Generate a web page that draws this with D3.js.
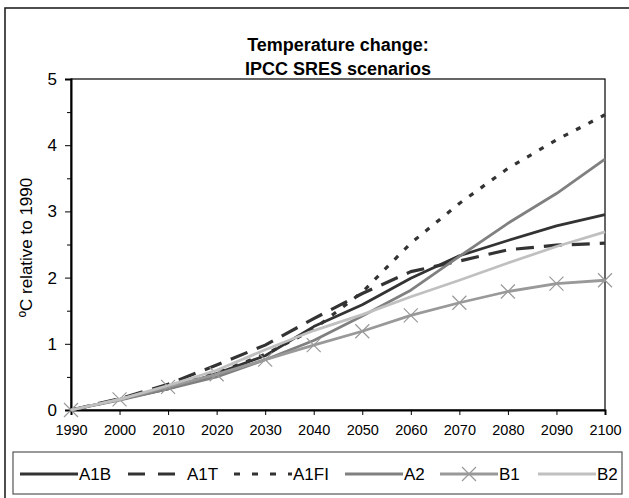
<!DOCTYPE html>
<html><head><meta charset="utf-8">
<script src="https://cdn.jsdelivr.net/npm/d3@7"></script>
<style>body{margin:0;background:#fff} text{font-family:"Liberation Sans",Arial,sans-serif;fill:#000}</style>
</head><body><svg id="c" width="629" height="498"></svg>
<script>
// ---- data ----
const years = [1990,2000,2010,2020,2030,2040,2050,2060,2070,2080,2090,2100];
const A1B  = [0,0.16,0.32,0.55,0.82,1.26,1.59,1.99,2.33,2.56,2.78,2.95];
const A1T  = [0,0.17,0.39,0.68,0.98,1.38,1.76,2.09,2.25,2.42,2.49,2.52];
const A1FI = [0,0.16,0.34,0.56,0.84,1.22,1.78,2.52,3.12,3.65,4.08,4.46];
const A2   = [0,0.15,0.32,0.50,0.76,1.05,1.42,1.81,2.32,2.82,3.27,3.79];
const B1   = [0,0.16,0.35,0.54,0.76,0.98,1.19,1.43,1.62,1.79,1.91,1.96];
const B2   = [0,0.16,0.37,0.60,0.91,1.20,1.44,1.71,1.96,2.22,2.47,2.69];
const seriesNames = ["A1B","A1T","A1FI","A2","B1","B2"];
const yTicks = [0,1,2,3,4,5];
const yMinorTicks = [0.5,1.5,2.5,3.5,4.5];
const titleLines = ["Temperature change:","IPCC SRES scenarios"];
const yLabel = "ºC relative to 1990";

// ---- styles ----
const styles = {
  A1B:  {color:"#333333", width:2.8, dash:null, ldash:null, marker:false},
  A1T:  {color:"#333333", width:3.2, dash:"18,10", ldash:"17,13", marker:false},
  A1FI: {color:"#333333", width:3.2, dash:"5,9", ldash:"6,12", marker:false},
  A2:   {color:"#808080", width:2.8, dash:null, ldash:null, marker:false},
  B1:   {color:"#999999", width:2.8, dash:null, ldash:null, marker:true},
  B2:   {color:"#c0c0c0", width:2.8, dash:null, ldash:null, marker:false}
};
const seriesData = {A1B, A1T, A1FI, A2, B1, B2};

const svg = d3.select("#c");
const L = 71, R = 605, T = 79, B = 410;

// outer frame
svg.append("rect").attr("x",5).attr("y",8).attr("width",640).attr("height",500)
  .attr("fill","none").attr("stroke","#222").attr("stroke-width",1.6);

const x = d3.scaleLinear().domain([1990,2100]).range([L,R]);
const y = d3.scaleLinear().domain([0,5]).range([B,T]);

// plot frame
svg.append("rect").attr("x",L).attr("y",T).attr("width",R-L).attr("height",B-T)
  .attr("fill","none").attr("stroke","#000").attr("stroke-width",1.2);

// y axis
const yAxis = svg.append("g").attr("transform",`translate(${L},0)`)
  .call(d3.axisLeft(y).tickValues(yTicks).tickFormat(d3.format("d")).tickSize(6).tickPadding(8));
yAxis.select(".domain").attr("stroke","#000").attr("stroke-width",2);
yAxis.selectAll("text").style("font-size","17px").attr("fill","#000");
svg.append("g").attr("transform",`translate(${L},0)`)
  .call(d3.axisLeft(y).tickValues(yMinorTicks).tickFormat("").tickSize(4))
  .select(".domain").remove();

// x axis
const xAxis = svg.append("g").attr("transform",`translate(0,${B})`)
  .call(d3.axisBottom(x).tickValues(years).tickFormat(d3.format("d")).tickSize(5).tickPadding(10));
xAxis.select(".domain").attr("stroke","#000").attr("stroke-width",2);
xAxis.selectAll("text").style("font-size","14.5px").attr("fill","#000");

// title
svg.selectAll(".title").data(titleLines).enter().append("text")
  .attr("x",(L+R)/2).attr("y",(d,i)=>51+i*24).attr("text-anchor","middle")
  .style("font-size","18px").style("font-weight","bold").text(d=>d);

// y label
svg.append("text").attr("transform",`translate(32,${(T+B)/2+3}) rotate(-90)`)
  .attr("text-anchor","middle").style("font-size","17px").text(yLabel);

// lines
const line = d3.line().x((d,i)=>x(years[i])).y(d=>y(d));
seriesNames.forEach(n=>{
  const s = styles[n];
  svg.append("path").datum(seriesData[n]).attr("d",line)
    .attr("fill","none").attr("stroke",s.color).attr("stroke-width",s.width)
    .attr("stroke-dasharray",s.dash).attr("stroke-linejoin","round");
  if(s.marker){
    const m = 7;
    svg.append("g").selectAll("path").data(seriesData[n]).enter().append("path")
      .attr("d",(d,i)=>{const cx=x(years[i]),cy=y(d);
        return `M${cx-m},${cy-m}L${cx+m},${cy+m}M${cx-m},${cy+m}L${cx+m},${cy-m}`;})
      .attr("stroke",s.color).attr("stroke-width",1.2).attr("fill","none");
  }
});

// legend
const lg = {x:13, y:452, w:609, h:42};
svg.append("rect").attr("x",lg.x).attr("y",lg.y).attr("width",lg.w).attr("height",lg.h)
  .attr("fill","#fff").attr("stroke","#555").attr("stroke-width",1.2);
const legendLineStart = [20,128,234,345,440,538];
const legendLineLen = 58;
const ly = 474;
seriesNames.forEach((n,i)=>{
  const s = styles[n];
  const x0 = legendLineStart[i];
  svg.append("line").attr("x1",x0).attr("x2",x0+legendLineLen).attr("y1",ly).attr("y2",ly)
    .attr("stroke",s.color).attr("stroke-width",s.width).attr("stroke-dasharray",s.ldash);
  if(s.marker){
    const cx=x0+legendLineLen/2, m=7;
    svg.append("path").attr("d",`M${cx-m},${ly-m}L${cx+m},${ly+m}M${cx-m},${ly+m}L${cx+m},${ly-m}`)
      .attr("stroke",s.color).attr("stroke-width",1.2);
  }
  svg.append("text").attr("x",x0+legendLineLen+1).attr("y",ly+6)
    .style("font-size","17px").text(n);
});
</script></body></html>
